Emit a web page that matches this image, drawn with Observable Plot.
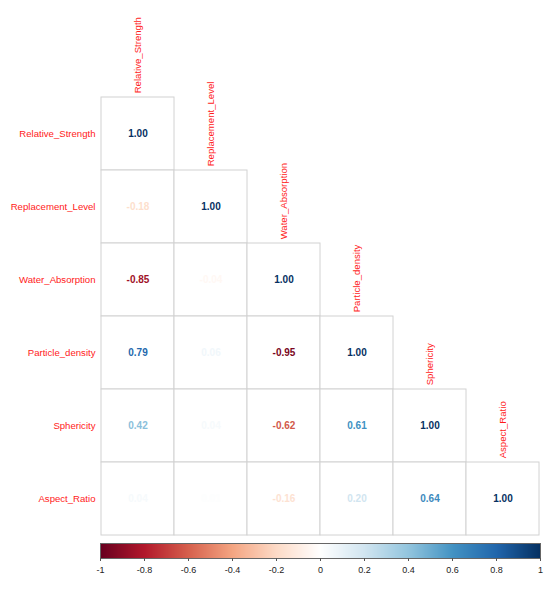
<!DOCTYPE html>
<html>
<head>
<meta charset="utf-8">
<script src="https://cdn.jsdelivr.net/npm/d3@7"></script>
<script src="https://cdn.jsdelivr.net/npm/@observablehq/plot@0.6"></script>
<style>
  body { margin: 0; background: #fff; }
  #chart svg { display: block; }
</style>
</head>
<body>
<div id="chart"></div>
<script>
const variables = ["Relative_Strength", "Replacement_Level", "Water_Absorption", "Particle_density", "Sphericity", "Aspect_Ratio"];
// lower triangle of the correlation matrix, row by row
const corrRows = [
  [1.00],
  [-0.18, 1.00],
  [-0.85, -0.04, 1.00],
  [0.79, 0.06, -0.95, 1.00],
  [0.42, 0.04, -0.62, 0.61, 1.00],
  [0.04, 0.01, -0.16, 0.20, 0.64, 1.00]
];
const colorStops = [-1, -0.8, -0.6, -0.4, -0.2, 0, 0.2, 0.4, 0.6, 0.8, 1];
const colorRange = ["#67001F", "#B2182B", "#D6604D", "#F4A582", "#FDDBC7", "#FFFFFF", "#D1E5F0", "#92C5DE", "#4393C3", "#2166AC", "#053061"];
const legendTicks = [-1, -0.8, -0.6, -0.4, -0.2, 0, 0.2, 0.4, 0.6, 0.8, 1];

const cells = [];
corrRows.forEach((vals, i) => vals.forEach((v, j) => cells.push({row: variables[i], col: variables[j], value: v})));

const font = "'Liberation Sans', Arial, sans-serif";
const W = 550, ML = 100, MR = 10, MT = 96, MB = 4, H1 = 540;
const band = (W - ML - MR) / variables.length;
const colorScale = {type: "linear", domain: colorStops, range: colorRange};

const grid = Plot.plot({
  width: W, height: H1,
  marginLeft: ML, marginRight: MR, marginTop: MT, marginBottom: MB,
  style: {fontFamily: font, background: "white"},
  x: {domain: variables, padding: 0, axis: null},
  y: {domain: variables, padding: 0, axis: null},
  color: colorScale,
  marks: [
    Plot.cell(cells, {x: "col", y: "row", fill: "white", stroke: "#d2d2d2", strokeWidth: 1, inset: 0}),
    Plot.text(cells, {x: "col", y: "row", text: d => d.value.toFixed(2), fill: "value", fontWeight: "bold", fontSize: 10}),
    Plot.text(variables, {y: d => d, frameAnchor: "left", dx: -5, textAnchor: "end", fill: "#FF1a1a", fontSize: 9.6}),
    Plot.text(variables, {x: d => d, y: d => d, rotate: -90, textAnchor: "start", dy: -(band / 2 + 4), fill: "#FF1a1a", fontSize: 9.6})
  ]
});

const bar = Plot.plot({
  width: W, height: 51,
  marginLeft: ML, marginRight: MR, marginTop: 3, marginBottom: 33,
  style: {fontFamily: font, background: "white"},
  x: {domain: [-1, 1]},
  y: {domain: [0, 1], axis: null},
  color: colorScale,
  marks: [
    Plot.raster({x1: -1, x2: 1, y1: 0, y2: 1, width: 440, height: 1, fill: (x, y) => x, imageRendering: "auto"}),
    Plot.frame({stroke: "#666", strokeWidth: 1}),
    Plot.axisX({ticks: legendTicks, tickFormat: d => String(d), tickSize: 3, tickPadding: 5, fontSize: 9, stroke: "#555", fill: "#222", label: null})
  ]
});

document.getElementById("chart").append(grid, bar);
</script>
</body>
</html>
